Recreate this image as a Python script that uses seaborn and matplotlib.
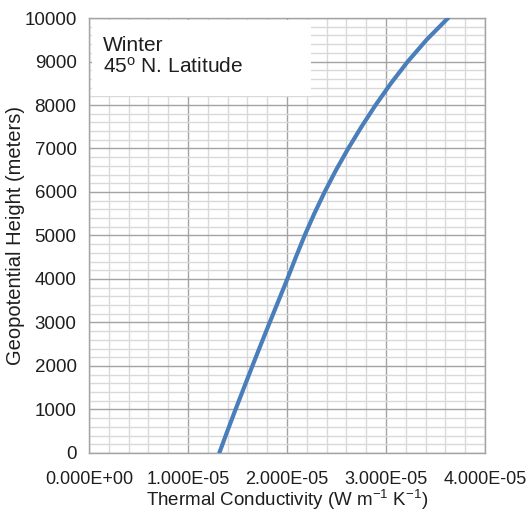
import matplotlib
matplotlib.use("Agg")
import matplotlib.pyplot as plt
from matplotlib.patches import Rectangle
from matplotlib.ticker import MultipleLocator, FuncFormatter
import seaborn as sns
import pandas as pd

# ── data ──────────────────────────────────────────────────────
height_m = [0, 500, 1000, 1500, 2000, 2500, 3000, 3500, 4000, 4500, 5000,
            5500, 6000, 6500, 7000, 7500, 8000, 8500, 9000, 9500, 10000]
conductivity = [1.316e-5, 1.397e-5, 1.48e-5, 1.565e-5, 1.65e-5, 1.737e-5,
                1.825e-5, 1.914e-5, 2.003e-5, 2.089e-5, 2.178e-5, 2.275e-5,
                2.38e-5, 2.494e-5, 2.618e-5, 2.752e-5, 2.895e-5, 3.05e-5,
                3.22e-5, 3.41e-5, 3.627e-5]

df = pd.DataFrame({"k": conductivity, "h": height_m})

# ── style ─────────────────────────────────────────────────────
sns.set_style("white")
plt.rcParams["font.family"] = ["Liberation Sans", "DejaVu Sans"]
plt.rcParams["mathtext.fontset"] = "custom"
plt.rcParams["mathtext.rm"] = "Liberation Sans"
plt.rcParams["mathtext.it"] = "Liberation Sans"

major_c = "#a3a3a3"
minor_c = "#d9d9d9"
text_c = "#1e1e1e"

fig = plt.figure(figsize=(5.28, 5.13), dpi=100)
ax = fig.add_axes([0.1686, 0.117, 0.75, 0.8479])

sns.lineplot(data=df, x="k", y="h", color="#4a7ebb", linewidth=3.0,
             sort=False, ax=ax, zorder=3)

ax.set_xlim(0, 4e-5)
ax.set_ylim(0, 10000)
ax.xaxis.set_major_locator(MultipleLocator(1e-5))
ax.xaxis.set_minor_locator(MultipleLocator(2e-6))
ax.yaxis.set_major_locator(MultipleLocator(1000))
ax.yaxis.set_minor_locator(MultipleLocator(200))
ax.xaxis.set_major_formatter(FuncFormatter(lambda v, p: f"{v:.3E}"))

ax.set_axisbelow(True)
ax.grid(which="minor", color=minor_c, linewidth=1.0)
ax.grid(which="major", color=major_c, linewidth=1.0)
for s in ax.spines.values():
    s.set_color(major_c)
    s.set_linewidth(1.0)

ax.tick_params(which="major", direction="out", length=5, width=1,
               color=major_c, labelsize=13.5, labelcolor=text_c, pad=4)
ax.tick_params(which="minor", length=0)
ax.tick_params(axis="x", labelsize=13, pad=8)

ax.set_xlabel("Thermal Conductivity (W m$^{-1}$ K$^{-1}$)", fontsize=13.5,
              color=text_c, labelpad=0)
ax.set_ylabel("Geopotential Height (meters)", fontsize=14.5,
              color=text_c, labelpad=-0.5)

# label box covering the grid in the upper-left corner
ax.add_patch(Rectangle((0.007, 0.82), 0.553, 0.175, transform=ax.transAxes,
                       facecolor="white", edgecolor="none", zorder=2))
ax.text(0.035, 0.958, "Winter\n45$^{\\rm o}$ N. Latitude", transform=ax.transAxes,
        fontsize=15, va="top", ha="left", color=text_c,
        linespacing=1.1, zorder=4)

plt.savefig("out.png", dpi=100)
